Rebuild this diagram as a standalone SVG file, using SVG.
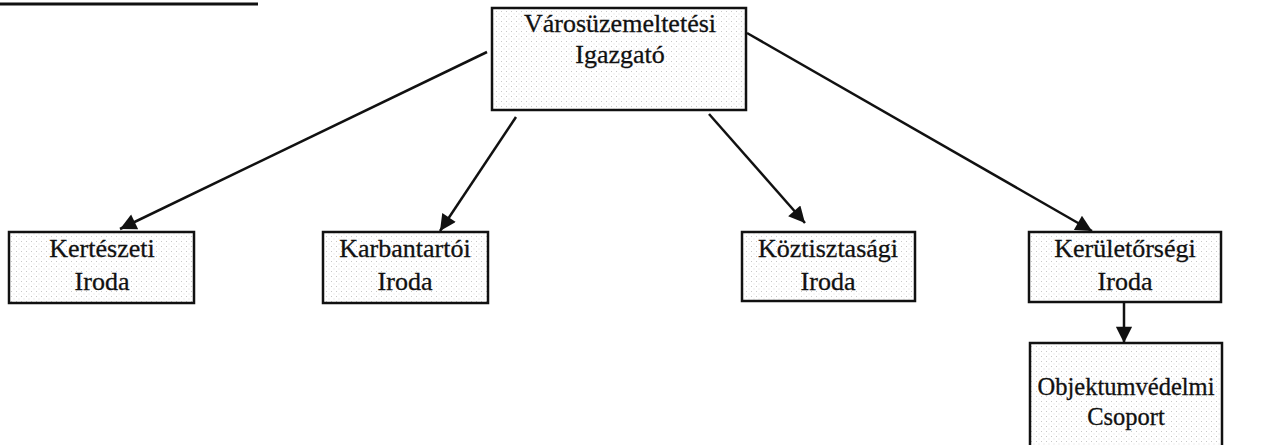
<svg xmlns="http://www.w3.org/2000/svg" width="1277" height="445" viewBox="0 0 1277 445">
<style>
.box{fill:url(#dots);stroke:#111;stroke-width:2.5}
.lbl{font-family:'Liberation Serif','DejaVu Serif','Times New Roman',serif;font-size:26px;fill:#111;stroke:#111;stroke-width:0.3;text-anchor:middle}
.con{stroke:#111;stroke-width:2.5;fill:none;marker-end:url(#ah)}
</style>
<defs>
<pattern id="dots" width="5" height="5" patternUnits="userSpaceOnUse">
<rect width="5" height="5" fill="#ffffff"/>
<rect x="1" y="1" width="1" height="1" fill="#c8c8c8"/>
<rect x="3.5" y="3.5" width="1" height="1" fill="#dddddd"/>
</pattern>
<marker id="ah" viewBox="0 0 10 10" refX="10" refY="5" markerWidth="8" markerHeight="6.5" markerUnits="strokeWidth" orient="auto">
<path d="M0,0 L10,5 L0,10 z" fill="#111"/>
</marker>
</defs>
<rect width="1277" height="445" fill="#ffffff"/>
<line x1="0" y1="4" x2="258" y2="4" stroke="#111" stroke-width="3"/>
<g id="connectors">
<line class="con" x1="487" y1="52" x2="120" y2="229"/>
<line class="con" x1="516" y1="117" x2="440" y2="231"/>
<line class="con" x1="709" y1="114" x2="805" y2="223"/>
<line class="con" x1="747" y1="33" x2="1092" y2="231"/>
<line class="con" x1="1124" y1="302" x2="1124" y2="343"/>
</g>
<g id="n-igazgato">
<rect class="box" x="492" y="8" width="254" height="102"/>
<text class="lbl" x="620" y="32">Városüzemeltetési</text>
<text class="lbl" x="620" y="63">Igazgató</text>
</g>
<g id="n-kerteszeti">
<rect class="box" x="9" y="232" width="185" height="71"/>
<text class="lbl" x="102" y="257">Kertészeti</text>
<text class="lbl" x="102" y="290">Iroda</text>
</g>
<g id="n-karbantartoi">
<rect class="box" x="323" y="232" width="165" height="71"/>
<text class="lbl" x="405" y="257">Karbantartói</text>
<text class="lbl" x="405" y="290">Iroda</text>
</g>
<g id="n-koztisztasagi">
<rect class="box" x="742" y="232" width="173" height="69"/>
<text class="lbl" x="828" y="257">Köztisztasági</text>
<text class="lbl" x="828" y="290">Iroda</text>
</g>
<g id="n-keruletorsegi">
<rect class="box" x="1029" y="232" width="192" height="70"/>
<text class="lbl" x="1125" y="257">Kerületőrségi</text>
<text class="lbl" x="1125" y="290">Iroda</text>
</g>
<g id="n-objektumvedelmi">
<rect class="box" x="1030" y="343" width="192" height="110"/>
<text class="lbl" x="1126" y="395" style="font-size:24.5px">Objektumvédelmi</text>
<text class="lbl" x="1126" y="425" style="font-size:24.5px">Csoport</text>
</g>
</svg>
